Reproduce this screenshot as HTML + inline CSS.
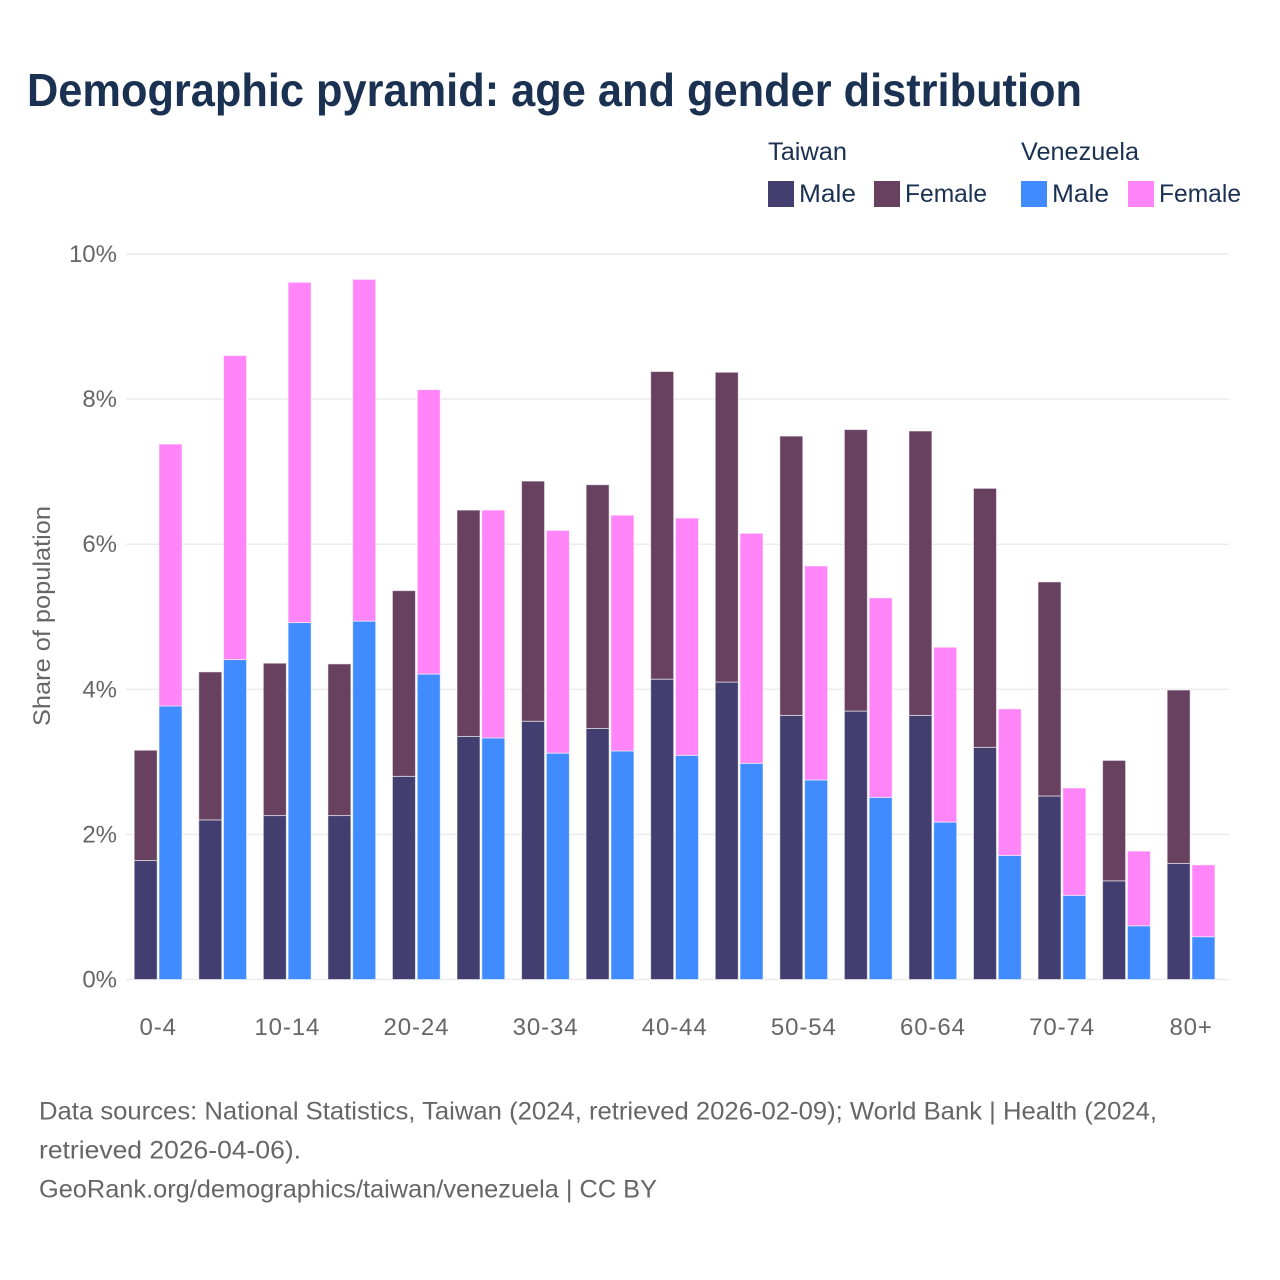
<!DOCTYPE html>
<html lang="en">
<head>
<meta charset="utf-8">
<title>Demographic pyramid: age and gender distribution</title>
<style>
html,body{margin:0;padding:0;background:#fff;}
body{width:1280px;height:1280px;overflow:hidden;}
svg{display:block;font-family:"Liberation Sans",sans-serif;}
</style>
</head>
<body>
<svg id="chart" width="1280" height="1280" viewBox="0 0 1280 1280" xmlns="http://www.w3.org/2000/svg">
<rect width="1280" height="1280" fill="#fff"/>
<text x="27" y="106" font-size="46" font-weight="700" fill="#1a3152" textLength="1055" lengthAdjust="spacingAndGlyphs">Demographic pyramid: age and gender distribution</text>
<g id="grid"></g>
<g id="yticks"></g>
<g id="xticks"></g>
<g id="bars"></g>
<text transform="translate(50,616) rotate(-90)" text-anchor="middle" font-size="24" fill="#666" textLength="220" lengthAdjust="spacingAndGlyphs">Share of population</text>
<g font-size="25" fill="#1a3152">
<text x="768" y="160" textLength="79" lengthAdjust="spacingAndGlyphs">Taiwan</text>
<text x="1021" y="160" textLength="118" lengthAdjust="spacingAndGlyphs">Venezuela</text>
<rect x="768" y="181" width="26" height="26" fill="#433e70"/>
<text x="799" y="202" textLength="57" lengthAdjust="spacingAndGlyphs">Male</text>
<rect x="874" y="181" width="26" height="26" fill="#694160"/>
<text x="905" y="202" textLength="82" lengthAdjust="spacingAndGlyphs">Female</text>
<rect x="1021" y="181" width="26" height="26" fill="#3f8bff"/>
<text x="1052" y="202" textLength="57" lengthAdjust="spacingAndGlyphs">Male</text>
<rect x="1128" y="181" width="26" height="26" fill="#ff85f8"/>
<text x="1159" y="202" textLength="82" lengthAdjust="spacingAndGlyphs">Female</text>
</g>
<g font-size="25" fill="#666">
<text x="39" y="1119.5" textLength="1118" lengthAdjust="spacingAndGlyphs">Data sources: National Statistics, Taiwan (2024, retrieved 2026-02-09); World Bank | Health (2024,</text>
<text x="39" y="1158.5" textLength="262" lengthAdjust="spacingAndGlyphs">retrieved 2026-04-06).</text>
<text x="39" y="1197.5" textLength="618" lengthAdjust="spacingAndGlyphs">GeoRank.org/demographics/taiwan/venezuela | CC BY</text>
</g>
</svg>
<script>
const categories = ["0-4","5-9","10-14","15-19","20-24","25-29","30-34","35-39","40-44","45-49","50-54","55-59","60-64","65-69","70-74","75-79","80+"];
const taiwanMale = [1.64,2.20,2.26,2.26,2.80,3.35,3.56,3.46,4.14,4.10,3.64,3.70,3.64,3.20,2.53,1.36,1.60];
const taiwanFemale = [1.52,2.04,2.10,2.09,2.56,3.12,3.31,3.36,4.24,4.27,3.85,3.88,3.92,3.57,2.95,1.66,2.39];
const venezuelaMale = [3.77,4.41,4.92,4.94,4.21,3.33,3.12,3.15,3.09,2.98,2.75,2.51,2.17,1.71,1.16,0.74,0.59];
const venezuelaFemale = [3.61,4.19,4.69,4.71,3.92,3.14,3.07,3.25,3.27,3.17,2.95,2.75,2.41,2.02,1.48,1.03,0.99];
const yTicks = [0,2,4,6,8,10];

const NS = "http://www.w3.org/2000/svg";
const yScale = v => 979.5 - v * 72.55;
const xCenter = i => 158.2 + i * 64.56;
const BAR_W = 23;

function mk(parent, tag, attrs) {
  const el = document.createElementNS(NS, tag);
  for (const k in attrs) el.setAttribute(k, attrs[k]);
  parent.appendChild(el);
  return el;
}

const grid = document.getElementById("grid");
const yG = document.getElementById("yticks");
yTicks.forEach(t => {
  const y = yScale(t);
  const line = mk(grid, "line", {x1:126, x2:1229, y1:y, y2:y, stroke:"#ececec", "stroke-width":1.5});
  
  
  const lab = mk(yG, "text", {x:117, y:y + 8, "text-anchor":"end", "font-size":24, fill:"#666"});
  lab.textContent = t + "%";
  
  
});

const xG = document.getElementById("xticks");
categories.forEach((c, i) => {
  if (i % 2) return;
  const lab = mk(xG, "text", {x:xCenter(i), y:1035, "text-anchor":"middle", "font-size":24, fill:"#666", "letter-spacing":"0.9"});
  lab.textContent = c;
  
  
});

const barsG = document.getElementById("bars");
function bar(x, base, val, fill) {
  const top = yScale(base + val);
  const r = mk(barsG, "rect", {x:x, y:top, width:BAR_W, height:yScale(base) - top, fill:fill, stroke:"#fff", "stroke-opacity":0.55, "stroke-width":1});
  
  
}
categories.forEach((c, i) => {
  const cx = xCenter(i);
  bar(cx - 24, 0, taiwanMale[i], "#433e70");
  bar(cx - 24, taiwanMale[i], taiwanFemale[i], "#694160");
  bar(cx + 0.8, 0, venezuelaMale[i], "#3f8bff");
  bar(cx + 0.8, venezuelaMale[i], venezuelaFemale[i], "#ff85f8");
});
</script>
</body>
</html>
